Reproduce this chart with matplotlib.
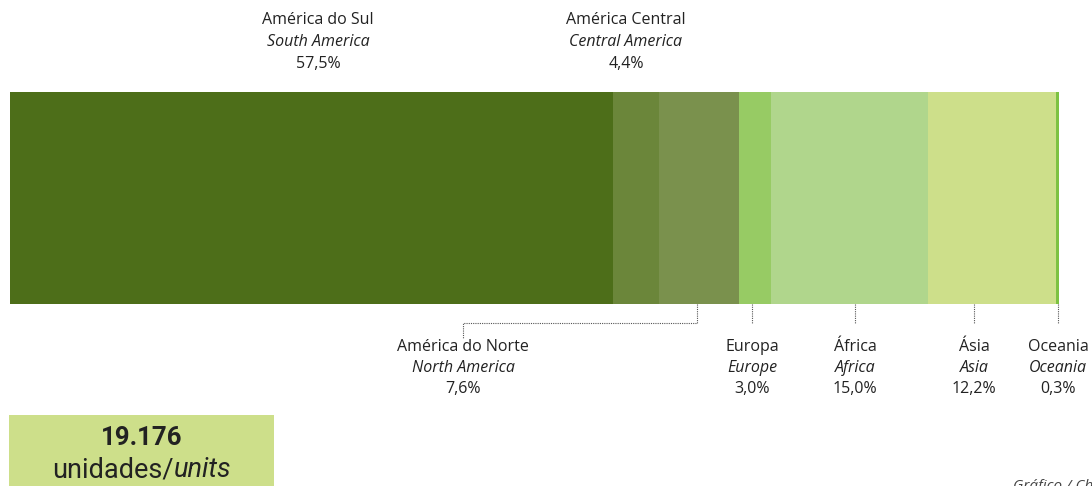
import matplotlib
matplotlib.use("Agg")
import matplotlib.pyplot as plt
from matplotlib.patches import Rectangle

# ---- data ----
regions_pt = ["América do Sul", "América Central", "América do Norte", "Europa", "África", "Ásia", "Oceania"]
regions_en = ["South America", "Central America", "North America", "Europe", "Africa", "Asia", "Oceania"]
shares = [57.5, 4.4, 7.6, 3.0, 15.0, 12.2, 0.3]
share_labels = ["57,5%", "4,4%", "7,6%", "3,0%", "15,0%", "12,2%", "0,3%"]
total_label = "19.176"
unit_label_pt = "unidades/"
unit_label_en = "units"

# ---- style / layout ----
colors = ["#4d6e19", "#6b863a", "#7a914d", "#97cb64", "#b0d68c", "#cddf8a", "#7dc242"]
label_x_px = [318, 626, 463, 752, 855, 974, 1058]
label_top = [True, True, False, False, False, False, False]
leader_x_px = [None, None, 697, 752, 855, 974, 1058]

W, H = 1092, 486
fig = plt.figure(figsize=(W / 100, H / 100), dpi=100)
ax = fig.add_axes([0, 0, 1, 1])
px_per_pct = 10.49
left_px = 10
ax.set_xlim(-left_px / px_per_pct, (W - left_px) / px_per_pct)
ax.set_ylim(H, 0)
ax.axis("off")

# bar (y in pixel coords, x in percent)
ax.barh([198] * len(shares), shares, left=[sum(shares[:i]) for i in range(len(shares))],
        height=212, color=colors, edgecolor="none")

def px2x(px):
    return (px - left_px) / px_per_pct

font = "Open Sans"
txtcol = "#222222"
fs = 11.5
for i in range(len(shares)):
    x = px2x(label_x_px[i])
    if label_top[i]:
        ys = [20, 42, 64]
    else:
        ys = [347, 368, 389]
    ax.text(x, ys[0], regions_pt[i], ha="center", va="center", fontsize=fs, family=font, color=txtcol)
    ax.text(x, ys[1], regions_en[i], ha="center", va="center", fontsize=fs, family=font,
            style="italic", color=txtcol)
    ax.text(x, ys[2], share_labels[i], ha="center", va="center", fontsize=fs, family=font, color=txtcol)

# leader lines
lk = dict(color="#555555", lw=0.8, linestyle=(0, (1, 1)))
for i, lx in enumerate(leader_x_px):
    if lx is None:
        continue
    if i == 2:
        ax.plot([px2x(697), px2x(697), px2x(463), px2x(463)], [304, 323, 323, 338], **lk)
    else:
        ax.plot([px2x(lx), px2x(lx)], [304, 324], **lk)

# total box
ax.add_patch(Rectangle((px2x(9), 415), px2x(274) - px2x(9), 80, facecolor="#cddf8a", edgecolor="none"))
cx = px2x(142)
ax.text(cx, 438, total_label, ha="center", va="center", fontsize=18.5, family="Roboto",
        weight="bold", color="#222222")
fig.canvas.draw()
r = fig.canvas.get_renderer()
ufs = 19.5
ta = ax.text(0, 0, unit_label_pt, fontsize=ufs, family="Roboto")
tb = ax.text(0, 0, unit_label_en, fontsize=ufs, family="Roboto", style="italic")
wa = ta.get_window_extent(r).width
wb = tb.get_window_extent(r).width
ta.remove(); tb.remove()
start_px = 142 - (wa + wb) / 2
ax.text(px2x(start_px), 470, unit_label_pt, ha="left", va="center", fontsize=ufs,
        family="Roboto", color="#222222")
ax.text(px2x(start_px + wa), 470, unit_label_en, ha="left", va="center", fontsize=ufs,
        family="Roboto", style="italic", color="#222222")

# footer (cut off at the bottom edge in the original)
ax.text(px2x(1013), 494, "Gráfico / Chart", ha="left", va="bottom", fontsize=11,
        family=font, style="italic", color="#444444")

fig.savefig("out.png", dpi=100)
